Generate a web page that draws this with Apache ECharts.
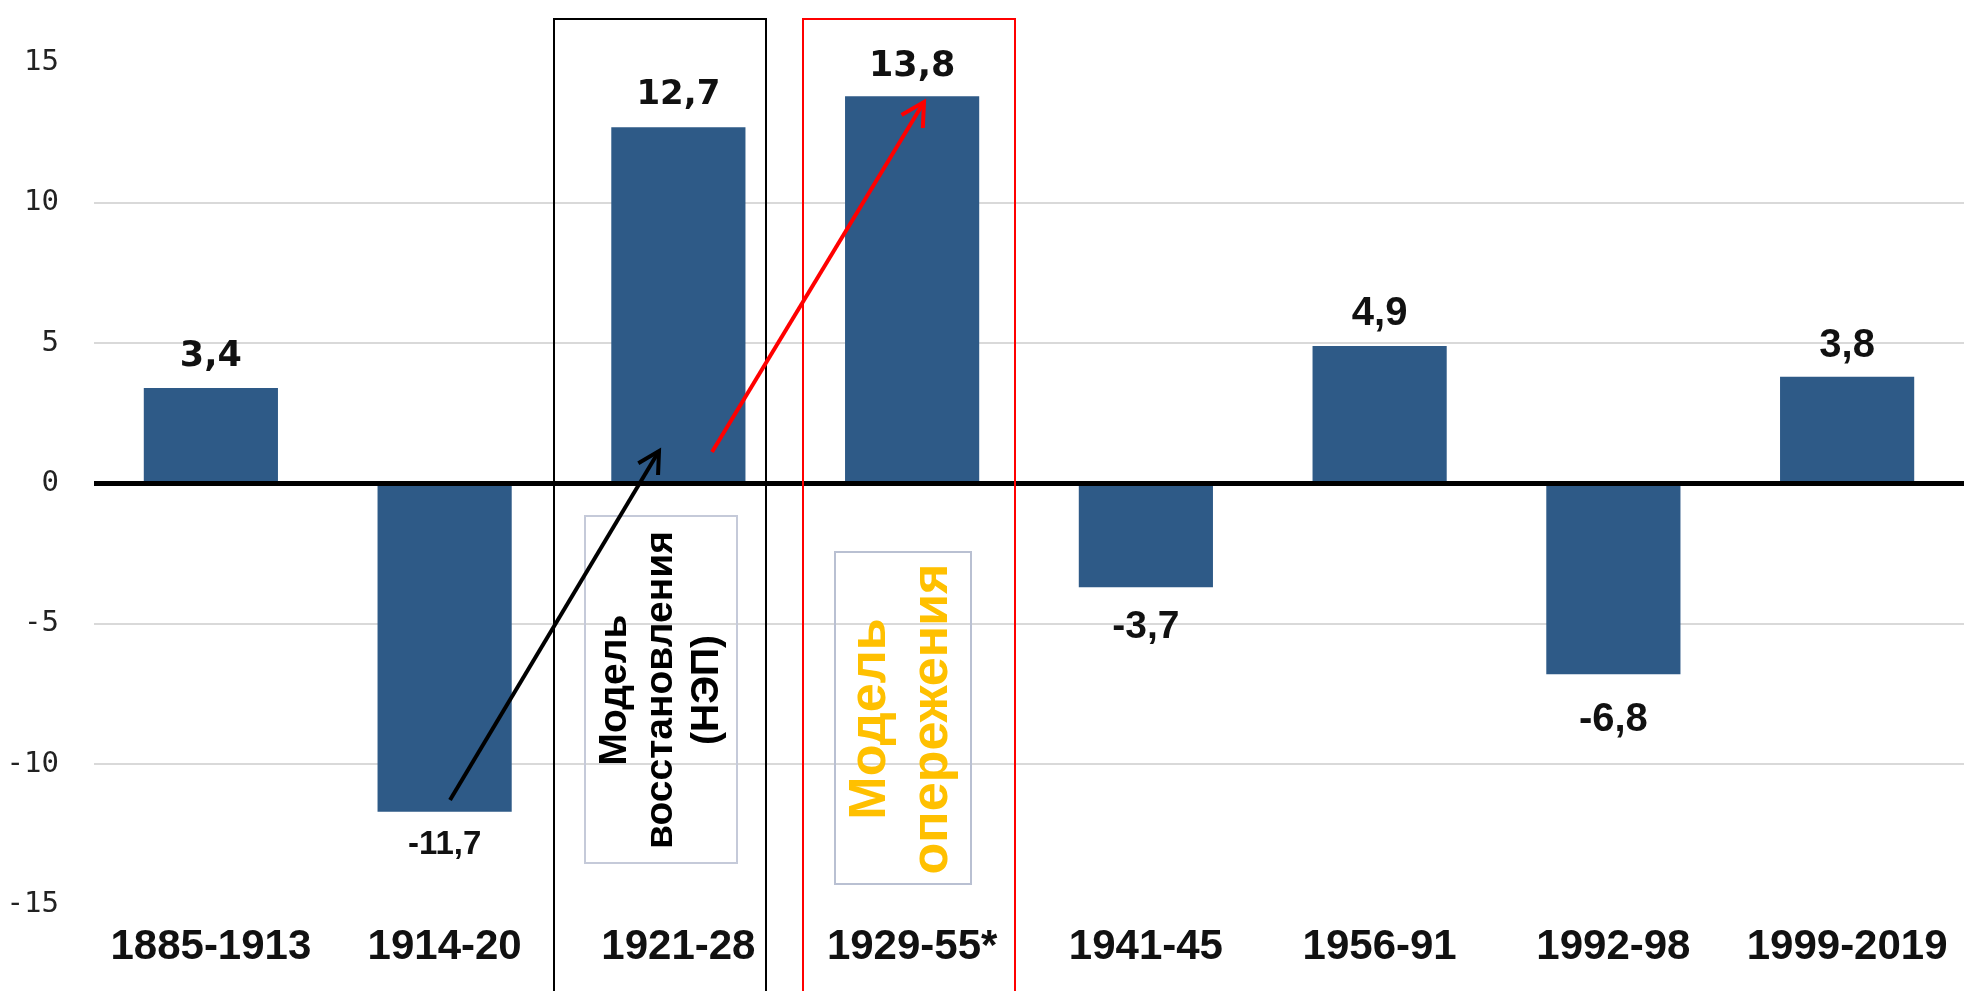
<!DOCTYPE html>
<html>
<head>
<meta charset="utf-8">
<script src="https://cdn.jsdelivr.net/npm/echarts@6/dist/echarts.min.js"></script>
<style>
  html, body { margin: 0; padding: 0; background: #ffffff; }
  #chart { width: 1964px; height: 991px; }
</style>
</head>
<body>
<div id="chart"></div>
<script>
// ---- data ----
const categories = ['1885-1913', '1914-20', '1921-28', '1929-55*', '1941-45', '1956-91', '1992-98', '1999-2019'];
const values = [3.4, -11.7, 12.7, 13.8, -3.7, 4.9, -6.8, 3.8];
const yTicks = [-15, -10, -5, 0, 5, 10, 15];
const boxLabels = ['Модель\nвосстановления\n(НЭП)', 'Модель\nопережения'];

// ---- styles (separate from data) ----
const labelFonts = ['DejaVu Sans', 'Liberation Sans', 'DejaVu Sans', 'DejaVu Sans', 'Liberation Sans', 'Liberation Sans', 'Liberation Sans', 'Liberation Sans'];
const labelSizes = [35, 33, 34, 35, 39, 40, 40, 40];
const labelDist = [14, 17, 15, 12, 20, 12, 26, 11];

const chart = echarts.init(document.getElementById('chart'), null, { renderer: 'canvas' });

const fmt = v => String(v).replace('.', ',');

const seriesData = values.map((v, i) => ({
  value: v,
  label: {
    show: true,
    position: v >= 0 ? 'top' : 'bottom',
    distance: labelDist[i],
    formatter: p => fmt(p.value),
    fontFamily: labelFonts[i],
    fontSize: labelSizes[i],
    fontWeight: 'bold',
    color: '#111'
  }
}));

function arrow(x1, y1, x2, y2, color, w, head) {
  const ang = Math.atan2(y2 - y1, x2 - x1);
  const a1 = ang + Math.PI - 0.5, a2 = ang + Math.PI + 0.5;
  return [
    { type: 'line', z: 100, shape: { x1, y1, x2, y2 }, style: { stroke: color, lineWidth: w } },
    { type: 'polyline', z: 100, shape: { points: [
        [x2 + head * Math.cos(a1), y2 + head * Math.sin(a1)], [x2, y2],
        [x2 + head * Math.cos(a2), y2 + head * Math.sin(a2)] ] },
      style: { stroke: color, lineWidth: w, fill: null } }
  ];
}

const option = {
  backgroundColor: '#ffffff',
  animation: false,
  grid: { left: 94, right: -12, top: 62.6, bottom: 86.6, containLabel: false },
  xAxis: {
    type: 'category',
    data: categories,
    axisLine: { show: false, onZero: false },
    axisTick: { show: false },
    axisLabel: {
      interval: 0,
      margin: 22,
      fontFamily: 'Liberation Sans',
      fontWeight: 'bold',
      fontSize: 42,
      lineHeight: 42,
      color: '#111'
    },
    splitLine: { show: false }
  },
  yAxis: {
    type: 'value',
    min: yTicks[0],
    max: yTicks[yTicks.length - 1],
    interval: 5,
    axisLine: { show: false },
    axisTick: { show: false },
    axisLabel: {
      margin: 35,
      fontFamily: 'DejaVu Sans Mono',
      fontSize: 29,
      color: '#222'
    },
    splitLine: { show: true, showMinLine: false, showMaxLine: false, lineStyle: { color: '#d9d9d9', width: 2 } }
  },
  series: [{
    type: 'bar',
    data: seriesData,
    barWidth: '57.4%',
    itemStyle: { color: '#2e5a87' },
    markLine: {
      silent: true,
      symbol: 'none',
      label: { show: false },
      lineStyle: { color: '#000', width: 5, type: 'solid' },
      data: [{ yAxis: 0 }],
      z: 5
    }
  }],
  graphic: [
    { type: 'rect', z: 90, shape: { x: 554, y: 19, width: 212, height: 1000 }, style: { stroke: '#000', lineWidth: 2, fill: null } },
    { type: 'rect', z: 90, shape: { x: 803, y: 19, width: 212, height: 1000 }, style: { stroke: '#ff0000', lineWidth: 2, fill: null } },
    { type: 'rect', z: 91, shape: { x: 585, y: 516, width: 152, height: 347 }, style: { stroke: '#c5cad9', lineWidth: 2, fill: null } },
    { type: 'rect', z: 91, shape: { x: 835, y: 552, width: 136, height: 332 }, style: { stroke: '#b9c0d2', lineWidth: 2, fill: null } },
    { type: 'text', z: 95, x: 661, y: 690, rotation: Math.PI / 2,
      style: { text: boxLabels[0], fontFamily: 'Liberation Sans', fontWeight: 'bold', fontSize: 39, lineHeight: 46,
               fill: '#000', align: 'center', verticalAlign: 'middle' } },
    { type: 'text', z: 95, x: 902, y: 719, rotation: Math.PI / 2,
      style: { text: boxLabels[1], fontFamily: 'Liberation Sans', fontWeight: 'bold', fontSize: 52, lineHeight: 62,
               fill: '#ffc000', align: 'center', verticalAlign: 'middle' } },
    ...arrow(450, 800, 659, 451, '#000', 4, 24),
    ...arrow(712, 452, 924, 102, '#ff0000', 4, 26)
  ]
};

chart.setOption(option);
</script>
</body>
</html>
